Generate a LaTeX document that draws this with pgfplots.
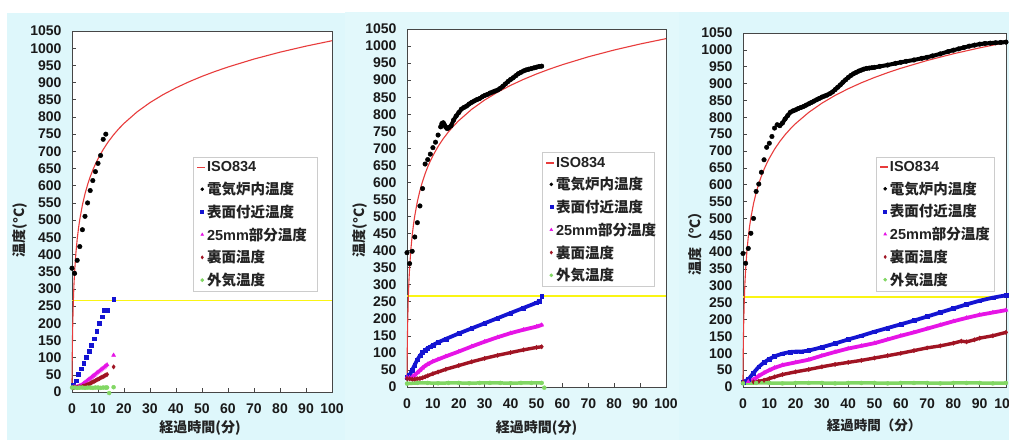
\documentclass[border=0pt]{standalone}
\usepackage{pgfplots}
\pgfplotsset{compat=1.18}
\usepackage{pgfplotstable}
\usepackage{fontspec}
\setmainfont{Liberation Sans}
\newfontfamily\jp{Noto Sans CJK JP}
\definecolor{bgc}{RGB}{222,247,251}
\definecolor{bgd}{RGB}{226,248,251}
\definecolor{isored}{RGB}{232,60,60}
\definecolor{cblue}{RGB}{20,20,210}
\definecolor{cmag}{RGB}{230,20,230}
\definecolor{cdred}{RGB}{160,20,35}
\definecolor{cgreen}{RGB}{130,215,100}
\definecolor{cyel}{RGB}{250,245,20}
\definecolor{frame}{RGB}{70,70,70}
\definecolor{ltxt}{RGB}{35,35,35}
\newcommand{\lgt}[2]{\rule[-3pt]{0pt}{13pt}\makebox[#1][l]{#2}}

\pgfplotstableread{
x y
0 20
0.05 70.4
0.1 108.1
0.25 184.6
0.5 261.2
0.75 311.6
1 349.2
1.5 404.3
2 444.5
2.5 476.2
3 502.3
4 543.9
5 576.4
6 603.1
7 625.8
8 645.5
9 662.8
10 678.4
12 705.4
14 728.3
16 748.2
18 765.7
20 781.3
25 814.6
30 841.8
35 864.8
40 884.7
45 902.3
50 918.1
55 932.3
60 945.3
70 968.4
80 988.4
90 1006.0
100 1021.7
}\isodata

\pgfplotstableread{
x y
0 266
100 266
}\yeldata

% ---------- panel 1 ----------
\pgfplotstableread{
x y
0 360
1 345
2 383
3 423
4 472
5 511
6 550
7 586
8 615
9 641
10 665
11 688
12 735
13 750
}\pOneBlk
\pgfplotstableread{
x y
0.5 20
1.5 33
2.5 51
3.5 68
4.5 84
5.5 102
6.5 119
7.5 136
8.5 155
9.5 176
10.5 200
11.5 219
12.5 238
13.5 239
16 269
}\pOneBlu
\pgfplotstableread{
x y
0.5 14
1 14
1.5 15
2 15
2.5 16
3 18
3.5 20
4 22
4.5 25
5 28
5.5 31
6 34
6.5 37
7 40
7.5 43
8 46
8.5 49
9 52
9.5 55
10 58
10.5 61
11 64
11.5 67
12 70
12.5 73
13 76
13.5 79
16 107
}\pOneMag
\pgfplotstableread{
x y
0.5 13
1 14
2 14
3 15
4 16
4.5 17
5 18
5.5 20
6 21
6.5 23
7 25
7.5 27
8 29
8.5 31
9 33
9.5 35
10 37
10.5 39
11 41
11.5 43
12 45
12.5 47
13 49
13.5 51
16 73
}\pOneRed
\pgfplotstableread{
x y
0 13
1 13
2 12
3 13
4 13
5 12
6 13
7 13
8 12
9 13
10 13
11 12
12 13
13 13
13.5 13
}\pOneGrnL
\pgfplotstableread{
x y
0 13
1 13
2 12
3 13
4 13
5 12
6 13
7 13
8 12
9 13
10 13
11 12
12 13
13 13
13.5 13
14.3 -3
16 14
}\pOneGrn

% ---------- panel 2 ----------
\pgfplotstableread{
x y
0 394
1 362
2 398
3 440
4 482
5 531
6 582
7 654
8 667
9 683
10 702
11 718
12 739
13 763
13.5 773
14 775
14.5 768
15 762
15.5 758
16 760
17 766
18 783
19 795
20 805
21 815
22 820
23 824
24 830
25 835
26 839
27 843
28 846
29 851
30 855
31 858
32 862
33 865
34 868
35 871
36 876
37 882
38 889
39 896
40 902
41 907
42 913
43 919
44 923
45 927
46 930
47 932
48 934
49 936
50 938
51 940
52 941
}\pTwoBlk
\pgfplotstableread{
x y
13 763
13.5 773
14 775
14.5 768
15 762
15.5 758
16 760
17 766
18 783
19 795
20 805
21 815
22 820
23 824
24 830
25 835
26 839
27 843
28 846
29 851
30 855
31 858
32 862
33 865
34 868
35 871
36 876
37 882
38 889
39 896
40 902
41 907
42 913
43 919
44 923
45 927
46 930
47 932
48 934
49 936
50 938
51 940
52 941
}\pTwoBlkL
\pgfplotstableread{
x y
0 28
1 35
2 50
3 65
4 80
5 92
6 101
7 108
8 114
9 118
10 123
12 131
15 141
20 157
25 172
30 187
35 202
40 217
45 232
50 247
51 251
}\pTwoBluL
\pgfplotstableread{
x y
0 28
1 35
2 50
3 65
4 80
5 92
6 101
7 108
8 114
9 118
10 123
12 131
15 141
20 157
25 172
30 187
35 202
40 217
45 232
50 247
51 251
52 266
}\pTwoBlu
\pgfplotstableread{
x y
0 28
1 28
2 30
3 35
4 42
5 49
6 56
7 62
8 67
10 75
12 81
15 90
20 104
25 119
30 133
35 146
40 158
45 168
50 177
52 182
}\pTwoMag
\pgfplotstableread{
x y
0 25
1 24
2 23
3 23
4 24
5 25
6 27
7 30
8 33
10 39
12 44
15 52
20 63
25 74
30 84
35 93
40 101
45 109
50 116
52 118
}\pTwoRed
\pgfplotstableread{
x y
0 10
4 12
8 12
12 11
16 12
20 12
24 11
28 12
32 12
36 12
40 11
44 12
48 12
52 12
}\pTwoGrnL
\pgfplotstableread{
x y
0 10
4 12
8 12
12 11
16 12
20 12
24 11
28 12
32 12
36 12
40 11
44 12
48 12
52 12
53 -2
}\pTwoGrn

% ---------- panel 3 ----------
\pgfplotstableread{
x y
0 396
1 367
2 411
3 456
4 500
5 580
6 602
7 637
8 674
9 711
10 723
11 743
12 768
13 778
14 775
15 783
16 795
17 805
18 815
19 819
20 822
21 826
22 829
23 832
24 836
25 840
26 844
27 848
28 852
29 856
30 860
31 863
32 866
33 870
34 875
35 882
36 889
37 896
38 904
39 911
40 918
41 924
42 929
43 933
44 937
45 940
46 943
47 945
48 946
49 947
50 948
52 951
55 955
58 960
60 963
62 966
65 970
68 975
70 978
72 982
75 988
78 995
80 999
82 1003
84 1007
86 1011
88 1014
90 1017
92 1019
94 1020
96 1021
98 1022
100 1023
}\pThrBlk
\pgfplotstableread{
x y
14 775
15 783
16 795
17 805
18 815
19 819
20 822
21 826
22 829
23 832
24 836
25 840
26 844
27 848
28 852
29 856
30 860
31 863
32 866
33 870
34 875
35 882
36 889
37 896
38 904
39 911
40 918
41 924
42 929
43 933
44 937
45 940
46 943
47 945
48 946
49 947
50 948
52 951
55 955
58 960
60 963
62 966
65 970
68 975
70 978
72 982
75 988
78 995
80 999
82 1003
84 1007
86 1011
88 1014
90 1017
92 1019
94 1020
96 1021
98 1022
100 1023
}\pThrBlkL
\pgfplotstableread{
x y
0 15
2 22
4 42
6 60
8 73
10 83
12 91
15 99
18 104
20 105
22 105
25 108
30 118
35 129
40 141
45 152
50 164
55 175
60 186
65 197
70 209
75 221
80 233
85 245
90 256
95 265
100 272
}\pThrBlu
\pgfplotstableread{
x y
0 15
2 16
4 22
6 33
8 42
10 50
12 57
15 65
20 73
25 81
30 93
35 104
40 114
45 122
50 130
55 141
60 152
65 162
70 173
75 184
80 195
85 205
90 214
95 221
100 228
}\pThrMag
\pgfplotstableread{
x y
0 15
4 15
6 17
8 20
10 25
12 30
15 37
20 45
25 52
30 60
35 67
40 73
45 79
50 86
55 93
60 100
65 108
70 116
75 122
80 130
83 136
85 134
88 140
90 145
95 152
100 162
}\pThrRed
\pgfplotstableread{
x y
0 11
5 12
10 12
15 11
20 12
25 12
30 12
35 11
40 12
45 12
50 12
55 11
60 12
65 12
70 12
75 11
80 12
85 12
90 12
95 11
100 12
}\pThrGrn

\pgfplotsset{
 panel/.style={
   scale only axis, xmin=0, xmax=100, ymin=0, ymax=1050,
   xtick={0,10,...,100}, ytick={0,50,...,1050},
   tick align=inside, xtick pos=left, ytick pos=left,
   major tick length=4pt,
   axis line style={frame, line width=0.9pt},
   tick style={frame, line width=0.6pt},
   axis background/.style={fill=white},
   /pgf/number format/assume math mode=true,
   /pgf/number format/1000 sep={},
   ticklabel style={font=\bfseries\fontsize{14}{16}\selectfont, text=black!90},
   yticklabel style={xshift=-7pt},
   xticklabel style={yshift=-8pt},
   clip=false,
   legend cell align=left,
   legend style={anchor=north west, draw=black!20, line width=0.6pt, fill=white,
     inner xsep=3pt, inner ysep=1pt, row sep=1.8pt, column sep=0pt,
     nodes={inner xsep=1pt, inner ysep=3.5pt},
     text=ltxt,
     font=\bfseries\fontsize{14.5}{16}\selectfont},
 },
 isoleg/.style={legend image code/.code={\path[draw=none] (0pt,0pt) -- (8pt,0pt); \draw[##1, draw=isored, line width=1.6pt] (0pt,0pt) -- (8pt,0pt);}},
 markleg/.style={legend image code/.code={\path[draw=none] (0pt,0pt) -- (8pt,0pt); \draw[##1, mark size=1.5pt] plot coordinates {(5pt,0pt)};}},
 iso/.style={isored, line width=1.1pt, no markers, isoleg},
 yel/.style={draw=cyel, line width=1.8pt, no markers, forget plot},
 blkm/.style={only marks, mark=*, mark size=2.3pt, black, markleg},
 blum/.style={only marks, mark=square*, mark size=1.9pt, cblue, markleg},
 magm/.style={only marks, mark=triangle*, mark size=2.3pt, cmag, markleg},
 redm/.style={only marks, mark=diamond*, mark size=2.2pt, cdred, markleg},
 grnm/.style={only marks, mark=*, mark size=2pt, cgreen, markleg},
 dl/.style={no markers, line width=3.8pt, line join=round, line cap=round, forget plot},
}

\begin{document}
\begin{tikzpicture}[x=1pt,y=1pt]
\useasboundingbox (0,0) rectangle (1009,440);
\fill[white] (0,0) rectangle (1009,440);
\fill[bgc] (7,0) rectangle (345,427);
\fill[bgd] (345,0) rectangle (679,428);
\fill[bgc] (679,0) rectangle (1009,428);

% ===== panel 1 =====
\begin{axis}[panel, at={(72pt,48pt)}, anchor=south west, width=260pt, height=361pt,
  legend style={at={(axis description cs:0.466,0.651)}}]
\addplot[yel] table {\yeldata};
\addplot[iso] table {\isodata};
\addlegendentry{\lgt{106pt}{ISO834}}
\addplot[blkm] table {\pOneBlk};
\addlegendentry{\lgt{106pt}{\jp 電気炉内温度}}
\addplot[blum] table {\pOneBlu};
\addlegendentry{\lgt{106pt}{\jp 表面付近温度}}
\addplot[magm] table {\pOneMag};
\addlegendentry{\lgt{106pt}{25mm{\jp 部分温度}}}
\addplot[redm] table {\pOneRed};
\addlegendentry{\lgt{106pt}{\jp 裏面温度}}
\addplot[cgreen, dl, line width=3.5pt] table {\pOneGrnL};
\addplot[grnm] table {\pOneGrn};
\addlegendentry{\lgt{106pt}{\jp 外気温度}}
\end{axis}

% ===== panel 2 =====
\begin{axis}[panel, at={(407pt,53pt)}, anchor=south west, width=259pt, height=358pt,
  legend style={at={(axis description cs:0.522,0.656)}}]
\addplot[yel] table {\yeldata};
\addplot[iso] table {\isodata};
\addlegendentry{\lgt{94pt}{ISO834}}
\addplot[black, dl, line width=4pt] table {\pTwoBlkL};
\addplot[blkm] table {\pTwoBlk};
\addlegendentry{\lgt{94pt}{\jp 電気炉内温度}}
\addplot[cblue, dl] table {\pTwoBluL};
\addplot[blum] table {\pTwoBlu};
\addlegendentry{\lgt{94pt}{\jp 表面付近温度}}
\addplot[cmag, dl] table {\pTwoMag};
\addplot[magm] table {\pTwoMag};
\addlegendentry{\lgt{94pt}{25mm{\jp 部分温度}}}
\addplot[cdred, dl, line width=3.4pt] table {\pTwoRed};
\addplot[redm] table {\pTwoRed};
\addlegendentry{\lgt{94pt}{\jp 裏面温度}}
\addplot[cgreen, dl, line width=3.5pt] table {\pTwoGrnL};
\addplot[grnm] table {\pTwoGrn};
\addlegendentry{\lgt{94pt}{\jp 外気温度}}
\end{axis}

% ===== panel 3 =====
\begin{axis}[panel, at={(743pt,53pt)}, anchor=south west, width=263pt, height=354pt,
  legend style={at={(axis description cs:0.506,0.651)}}]
\addplot[yel] table {\yeldata};
\addplot[iso] table {\isodata};
\addlegendentry{\lgt{100pt}{ISO834}}
\addplot[black, dl, line width=4pt] table {\pThrBlkL};
\addplot[blkm] table {\pThrBlk};
\addlegendentry{\lgt{100pt}{\jp 電気炉内温度}}
\addplot[cblue, dl] table {\pThrBlu};
\addplot[blum] table {\pThrBlu};
\addlegendentry{\lgt{100pt}{\jp 表面付近温度}}
\addplot[cmag, dl] table {\pThrMag};
\addplot[magm] table {\pThrMag};
\addlegendentry{\lgt{100pt}{25mm{\jp 部分温度}}}
\addplot[cdred, dl, line width=3.4pt] table {\pThrRed};
\addplot[redm] table {\pThrRed};
\addlegendentry{\lgt{100pt}{\jp 裏面温度}}
\addplot[cgreen, dl, line width=3.5pt] table {\pThrGrn};
\addplot[grnm] table {\pThrGrn};
\addlegendentry{\lgt{100pt}{\jp 外気温度}}
\end{axis}

% axis labels
\node[rotate=90, font=\jp\bfseries\fontsize{14}{16}\selectfont, text=ltxt] at (20,210) {温度(°C)};
\node[rotate=90, font=\jp\bfseries\fontsize{14}{16}\selectfont, text=ltxt] at (360,210) {温度(°C)};
\node[rotate=90, font=\jp\bfseries\fontsize{14}{16}\selectfont, text=ltxt] at (695,200) {温度（℃）};
\node[font=\jp\bfseries\fontsize{14}{16}\selectfont, text=ltxt] at (200,12) {経過時間(分)};
\node[font=\jp\bfseries\fontsize{14}{16}\selectfont, text=ltxt] at (536.5,12) {経過時間(分)};
\node[font=\jp\bfseries\fontsize{13.5}{16}\selectfont, text=ltxt] at (874,15) {経過時間（分）};
\end{tikzpicture}
\end{document}
